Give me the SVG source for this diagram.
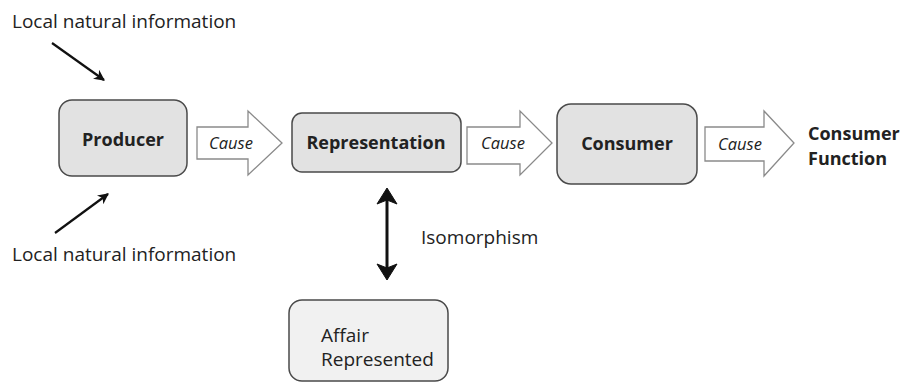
<svg xmlns="http://www.w3.org/2000/svg" width="902" height="383" viewBox="0 0 902 383">
<defs>
<style>
.t{font-family:"Open Sans","Liberation Sans",sans-serif;fill:#222;}
.lbl{font-size:19px;}
.b{font-size:18px;font-weight:bold;}
.c{font-size:16.5px;font-style:italic;}
.box{fill:#e2e2e2;stroke:#4a4a4a;stroke-width:1.5;}
.box2{fill:#f1f1f1;stroke:#4a4a4a;stroke-width:1.5;}
.cause{fill:#fff;stroke:#8a8a8a;stroke-width:1.3;stroke-linejoin:miter;}
.ln{stroke:#111;stroke-width:2.2;fill:none;}
</style>
<marker id="ah" viewBox="0 0 10 10" refX="9" refY="5" markerWidth="5" markerHeight="5" orient="auto-start-reverse" markerUnits="strokeWidth">
<path d="M0,0 L10,5 L0,10 L3,5 Z" fill="#111"/>
</marker>
</defs>
<rect width="902" height="383" fill="#fff"/>
<g id="connectors">
<line class="ln" x1="52" y1="43" x2="104" y2="80" marker-end="url(#ah)"/>
<line class="ln" x1="55" y1="233" x2="108" y2="194" marker-end="url(#ah)"/>
<g id="cause1">
<path class="cause" d="M197,127 H248 V111 L282,143 L248,175 V159 H197 Z"/>
<text class="t c" x="209" y="149">Cause</text>
</g>
<g id="cause2">
<path class="cause" d="M467,127 H520 V111 L552,143 L520,175 V164 H467 Z"/>
<text class="t c" x="481" y="149">Cause</text>
</g>
<g id="cause3">
<path class="cause" d="M705,127 H764 V111 L794,143 L764,176 V161 H705 Z"/>
<text class="t c" x="718" y="150">Cause</text>
</g>
<g id="iso">
<line x1="387" y1="200" x2="387" y2="268" stroke="#111" stroke-width="3"/>
<path d="M387,188 L397,204 L387,200 L377,204 Z" fill="#111" stroke="#111" stroke-width="1"/>
<path d="M387,280 L397,264 L387,268 L377,264 Z" fill="#111" stroke="#111" stroke-width="1"/>
<text class="t lbl" x="421" y="244">Isomorphism</text>
</g>
</g>
<g id="info-top"><text class="t lbl" x="12" y="28">Local natural information</text></g>
<g id="info-bottom"><text class="t lbl" x="12" y="261">Local natural information</text></g>
<g id="producer">
<rect class="box" x="59" y="100" width="128" height="76" rx="13"/>
<text class="t b" x="123" y="146" text-anchor="middle">Producer</text>
</g>
<g id="representation">
<rect class="box" x="292" y="113" width="169" height="59" rx="10"/>
<text class="t b" x="376" y="149" text-anchor="middle">Representation</text>
</g>
<g id="consumer">
<rect class="box" x="557" y="104" width="140" height="80" rx="14"/>
<text class="t b" x="627" y="150" text-anchor="middle">Consumer</text>
</g>
<g id="consumer-function">
<text class="t b" x="808" y="140">Consumer</text>
<text class="t b" x="808" y="165">Function</text>
</g>
<g id="affair">
<rect class="box2" x="289" y="300" width="159" height="81" rx="13"/>
<text class="t lbl" x="321" y="342">Affair</text>
<text class="t lbl" x="321" y="366">Represented</text>
</g>
</svg>
